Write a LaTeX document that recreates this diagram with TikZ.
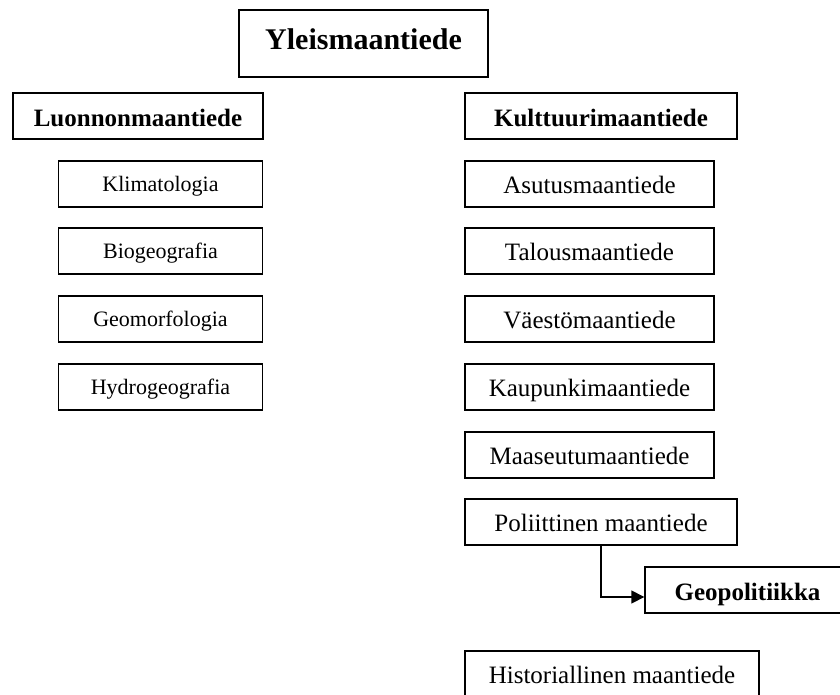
\documentclass[tikz,border=0pt]{standalone}
\usepackage{fontspec}
\setmainfont{Liberation Serif}
\usetikzlibrary{arrows.meta}
\tikzset{
  box/.style={draw, line width=1.4pt, inner sep=0pt, minimum height=46pt},
  subleft/.style={box, minimum width=204pt, font=\fontsize{22}{24}\selectfont, text height=20.4pt, text depth=5pt},
  subright/.style={box, minimum width=249pt, font=\fontsize{25}{27}\selectfont, text height=23.6pt, text depth=5pt},
  heading/.style={box, font=\fontsize{25}{27}\selectfont\bfseries, text height=25pt, text depth=5pt},
  titlebox/.style={box, minimum width=249pt, minimum height=67pt, font=\fontsize{30}{32}\selectfont\bfseries, text height=16.6pt, text depth=5pt},
  conn/.style={line width=1.6pt, -{Triangle[length=13pt,width=13pt]}}
}
\begin{document}
\begin{tikzpicture}[x=1pt,y=-1pt]
\useasboundingbox (0,0) rectangle (840,694);
\fill[white] (0,0) rectangle (840,694);
\clip (0,0) rectangle (840,694);
\node[titlebox] (yleis) at (363.5,43.5) {Yleismaantiede};
\node[heading, minimum width=250pt] (luon) at (138,116) {Luonnonmaantiede};
\node[subleft] (klim) at (160.5,184) {Klimatologia};
\node[subleft] (bio) at (160.5,251) {Biogeografia};
\node[subleft] (geom) at (160.5,319) {Geomorfologia};
\node[subleft] (hyd) at (160.5,387) {Hydrogeografia};
\node[heading, minimum width=272pt] (kult) at (601,116) {Kulttuurimaantiede};
\node[subright] (asu) at (589.5,184) {Asutusmaantiede};
\node[subright] (tal) at (589.5,251) {Talousmaantiede};
\node[subright] (vae) at (589.5,319) {Väestömaantiede};
\node[subright] (kau) at (589.5,387) {Kaupunkimaantiede};
\node[subright] (maa) at (589.5,455) {Maaseutumaantiede};
\node[subright, minimum width=272pt] (pol) at (601,522) {Poliittinen maantiede};
\node[heading, minimum width=205pt] (geop) at (747.5,590) {Geopolitiikka};
\node[subright, minimum width=294pt] (hist) at (612,674) {Historiallinen maantiede};
\draw[conn] (pol.south) |- ([yshift=-7pt]geop.west);
\end{tikzpicture}
\end{document}
